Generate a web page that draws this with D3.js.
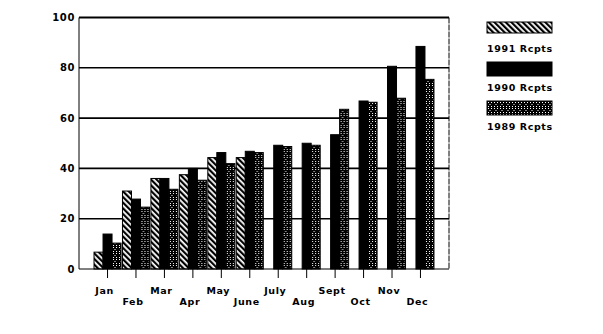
<!DOCTYPE html>
<html>
<head>
<meta charset="utf-8">
<script src="https://cdn.jsdelivr.net/npm/d3@7"></script>
<style>
  body { margin: 0; background: #fff; }
  text { font-family: "DejaVu Sans", sans-serif; font-weight: bold; letter-spacing: 0.6px; }
</style>
</head>
<body>
<svg id="chart"></svg>
<script>
// receipts by month
var months = ["Jan","Feb","Mar","Apr","May","June","July","Aug","Sept","Oct","Nov","Dec"]
var years = ["1991 Rcpts","1990 Rcpts","1989 Rcpts"]
var rcpts1991 = [6.7, 31, 36, 37.5, 44.3, 44.3, 0, 0, 0, 0, 0, 0]
var rcpts1990 = [13.9, 27.8, 36, 40, 46.3, 46.8, 49.2, 50, 53.4, 66.8, 80.6, 88.5]
var rcpts1989 = [10.3, 24.6, 31.7, 35.3, 41.9, 46.3, 48.7, 49.2, 63.5, 66.3, 67.9, 75.4]
var yTicks = [0, 20, 40, 60, 80, 100]

var width = 603, height = 334
var margin = ({top: 17.5, right: 154, bottom: 65, left: 79})

var svg = d3.select("#chart")
  .attr("width", width)
  .attr("height", height)

// fill patterns, one per year
var defs = svg.append("defs")

var stripes = defs.append("pattern")
  .attr("id", "p1991")
  .attr("patternUnits", "userSpaceOnUse")
  .attr("width", 4).attr("height", 4)
  .attr("patternTransform", "rotate(-45)")
stripes.append("rect").attr("width", 4).attr("height", 4).attr("fill", "#fff")
stripes.append("rect").attr("width", 2.2).attr("height", 4).attr("fill", "#000")

var specks = defs.append("pattern")
  .attr("id", "p1989")
  .attr("patternUnits", "userSpaceOnUse")
  .attr("width", 6).attr("height", 6)
specks.append("rect").attr("width", 6).attr("height", 6).attr("fill", "#000")
specks.selectAll("rect.dot")
  .data([[1,1],[4,1],[2.5,3],[1,5],[4,5]])
  .join("rect")
  .classed("dot", true)
  .attr("x", d => d[0]).attr("y", d => d[1])
  .attr("width", 1).attr("height", 1)
  .attr("fill", "#fff")

var fills = ["url(#p1991)", "#000", "url(#p1989)"]

var x = d3.scaleBand()
  .domain(months)
  .range([margin.left, width - margin.right])
  .paddingInner(0.05)
  .paddingOuter(0.528)

var xInner = d3.scaleBand()
  .domain(years)
  .range([0, x.bandwidth()])

var y = d3.scaleLinear()
  .domain([0, 100])
  .range([height - margin.bottom, margin.top])

// grid lines
svg.append("g")
  .selectAll("line")
  .data(yTicks.filter(d => d > 0))
  .join("line")
  .attr("x1", margin.left)
  .attr("x2", width - margin.right)
  .attr("y1", d => y(d))
  .attr("y2", d => y(d))
  .attr("stroke", "#000")
  .attr("stroke-width", d => d === 100 ? 2 : 1.6)

// frame
svg.append("line")
  .attr("x1", margin.left).attr("x2", margin.left)
  .attr("y1", y(100)).attr("y2", y(0))
  .attr("stroke", "#000")
svg.append("line")
  .attr("x1", width - margin.right).attr("x2", width - margin.right)
  .attr("y1", y(100)).attr("y2", y(0))
  .attr("stroke", "#000")
  .attr("stroke-dasharray", "6,1")

var series = [rcpts1991, rcpts1990, rcpts1989]

var groups = svg.append("g")
  .selectAll("g")
  .data(months)
  .join("g")
  .attr("transform", d => `translate(${x(d)},0)`)

groups.selectAll("rect")
  .data((m, i) => years.map((yr, j) => ({year: yr, j: j, value: series[j][i]})))
  .join("rect")
  .filter(d => d.value > 0)
  .attr("x", d => xInner(d.year))
  .attr("y", d => y(d.value))
  .attr("width", xInner.bandwidth())
  .attr("height", d => y(0) - y(d.value))
  .attr("fill", d => fills[d.j])
  .attr("stroke", "#000")
  .attr("stroke-width", 1)

// x axis: baseline, ticks at centres, staggered labels
svg.append("line")
  .attr("x1", margin.left).attr("x2", width - margin.right)
  .attr("y1", y(0)).attr("y2", y(0))
  .attr("stroke", "#000")

svg.append("g")
  .selectAll("line")
  .data(months)
  .join("line")
  .attr("x1", d => x(d) + x.bandwidth() / 2)
  .attr("x2", d => x(d) + x.bandwidth() / 2)
  .attr("y1", y(0))
  .attr("y2", y(0) + 9)
  .attr("stroke", "#000")

svg.append("g")
  .selectAll("text")
  .data(months)
  .join("text")
  .attr("x", d => x(d) + x.bandwidth() / 2 - 3)
  .attr("y", (d, i) => i % 2 === 0 ? y(0) + 25 : y(0) + 36)
  .attr("text-anchor", "middle")
  .attr("font-size", 9.5)
  .text(d => d)

// y labels
svg.append("g")
  .selectAll("text")
  .data(yTicks)
  .join("text")
  .attr("x", margin.left - 4)
  .attr("y", d => y(d))
  .attr("dy", "0.35em")
  .attr("text-anchor", "end")
  .attr("font-size", 10)
  .text(d => d)

// legend
var legendY = [22, 62, 101]
var legend = svg.append("g")
  .selectAll("g")
  .data(years)
  .join("g")
  .attr("transform", (d, i) => `translate(487,${legendY[i]})`)

legend.append("rect")
  .attr("width", 65)
  .attr("height", (d, i) => i === 0 ? 11 : 14)
  .attr("fill", (d, i) => fills[i])
  .attr("stroke", "#000")

legend.append("text")
  .attr("x", 0)
  .attr("y", (d, i) => i === 0 ? 30 : 29)
  .attr("font-size", 9.5)
  .text(d => d)
</script>
</body>
</html>
